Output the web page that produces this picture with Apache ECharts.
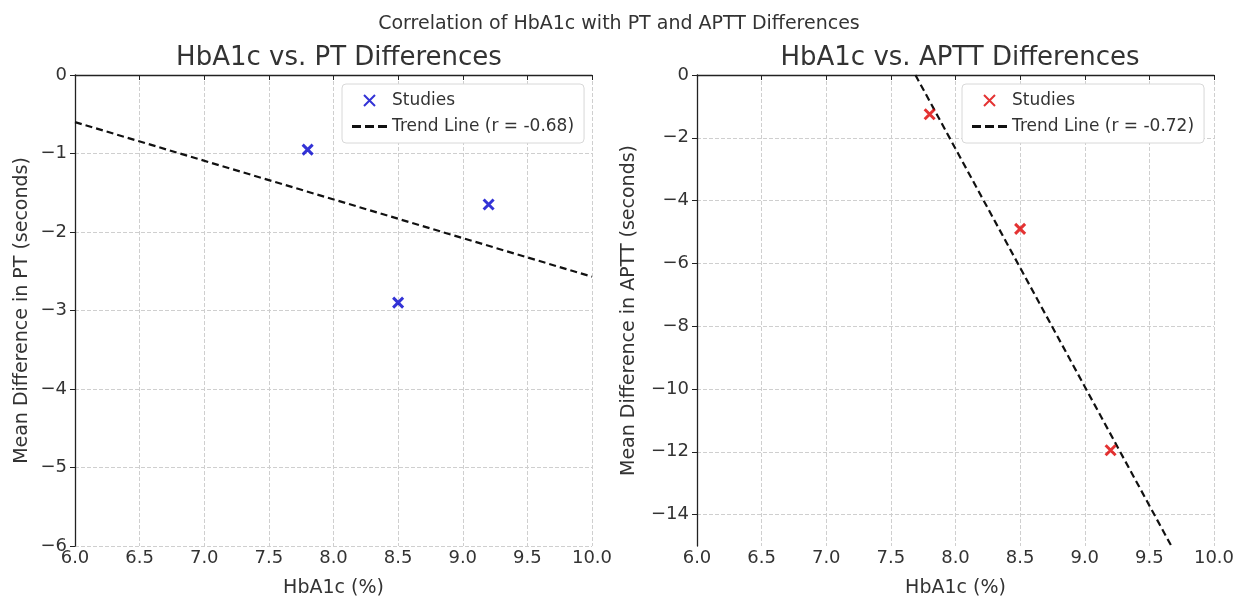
<!DOCTYPE html>
<html><head><meta charset="utf-8">
<script src="https://cdn.jsdelivr.net/npm/echarts@6/dist/echarts.min.js"></script>
<style>html,body{margin:0;padding:0;background:#fff}#c{width:1238px;height:597px}</style>
</head><body><div id="c"></div>
<script>
const hba1c = [7.8, 8.5, 9.2];
const ptDiff = [-0.95, -2.9, -1.65];
const apttDiff = [-1.25, -4.9, -11.95];
const ptTrend = [[6.0, -0.6], [10.0, -2.57]];
const apttTrend = [[7.69, 0], [9.67, -15]];
const ptYTicks = [0, -1, -2, -3, -4, -5, -6];
const apttYTicks = [0, -2, -4, -6, -8, -10, -12, -14];

const F = 'DejaVu Sans';
const xPath = 'path://M0,0L10,10M10,0L0,10';
const dashPath = 'path://M0,0h9v3h-9zM13,0h9v3h-9zM26,0h9v3h-9z';
function xAxis(idx){
  return {type:'value', gridIndex:idx, min:6, max:10, interval:0.5,
    name:'HbA1c (%)', nameLocation:'middle', nameGap:33,
    nameTextStyle:{fontFamily:F, fontSize:19, color:'#333'},
    axisLine:{lineStyle:{color:'#222', width:1.3}},
    axisTick:{show:true, length:5, lineStyle:{color:'#222'}},
    axisLabel:{fontFamily:F, fontSize:18, color:'#333', margin:3, formatter:v=>v.toFixed(1)},
    splitLine:{show:true, lineStyle:{color:'#cfcfcf', type:'dashed', width:1}}};
}
function yAxis(idx, min, ticks, name){
  return {type:'value', gridIndex:idx, min:min, max:0,
    name:name, nameLocation:'middle', nameGap:idx===0?43:58,
    nameTextStyle:{fontFamily:F, fontSize:19, color:'#333'},
    axisLine:{show:true, lineStyle:{color:'#222', width:1.3}},
    axisTick:{show:true, length:5, lineStyle:{color:'#222'}, customValues:ticks},
    axisLabel:{fontFamily:F, fontSize:18, color:'#333', margin:8, customValues:ticks,
      formatter:v=>v<0?'\u2212'+Math.abs(v):String(v)},
    splitLine:{show:true, lineStyle:{color:'#cfcfcf', type:'dashed', width:1}}};
}
function legend(idx, left, names){
  return {orient:'vertical', left:left, top:84, data:[{name:names[0], icon:xPath, itemStyle:{color:'rgba(0,0,0,0)'}}, {name:names[1], icon:dashPath, itemStyle:{color:'#111'}}],
    itemWidth:35, itemHeight:11, itemGap:9, padding:[8,10,8,10],
    borderColor:'#d8d8d8', borderWidth:1, borderRadius:4, backgroundColor:'#fff',
    textStyle:{fontFamily:F, fontSize:17, color:'#333'}};
}
const chart = echarts.init(document.getElementById('c'), null, {renderer:'canvas'});
chart.setOption({
  animation:false,
  title:[
    {text:'Correlation of HbA1c with PT and APTT Differences', left:'center', top:10, textStyle:{fontFamily:F, fontSize:19, fontWeight:'normal', color:'#333'}},
    {text:'HbA1c vs. PT Differences', left:334, textAlign:'center', top:40, textStyle:{fontFamily:F, fontSize:26, fontWeight:'normal', color:'#333'}},
    {text:'HbA1c vs. APTT Differences', left:955, textAlign:'center', top:40, textStyle:{fontFamily:F, fontSize:26, fontWeight:'normal', color:'#333'}}
  ],
  grid:[
    {left:75, right:646, top:75, bottom:51, containLabel:false, outerBoundsMode:'none'},
    {left:697, right:24, top:75, bottom:51, containLabel:false, outerBoundsMode:'none'}
  ],
  legend:[legend(0, 342, ['Studies', 'Trend Line (r = -0.68)']), legend(1, 962, ['Studies ', 'Trend Line (r = -0.72)'])],
  xAxis:[xAxis(0), xAxis(1)],
  yAxis:[yAxis(0, -6, ptYTicks, 'Mean Difference in PT (seconds)'), yAxis(1, -15, apttYTicks, 'Mean Difference in APTT (seconds)')],
  series:[
    {name:'Studies', type:'scatter', xAxisIndex:0, yAxisIndex:0, symbol:xPath, symbolSize:10,
      itemStyle:{color:'rgba(0,0,0,0)', borderColor:'#0000cc', borderWidth:3},
      data:hba1c.map((x,i)=>[x, ptDiff[i]]), z:3},
    {name:'Trend Line (r = -0.68)', type:'line', xAxisIndex:0, yAxisIndex:0, symbol:'none',
      lineStyle:{color:'#111', width:2.2, type:[7,4]}, itemStyle:{color:'#111'}, data:ptTrend},
    {name:'Studies ', type:'scatter', xAxisIndex:1, yAxisIndex:1, symbol:xPath, symbolSize:10,
      itemStyle:{color:'rgba(0,0,0,0)', borderColor:'#dd0000', borderWidth:3},
      data:hba1c.map((x,i)=>[x, apttDiff[i]]), z:3},
    {name:'Trend Line (r = -0.72)', type:'line', xAxisIndex:1, yAxisIndex:1, symbol:'none', clip:true,
      lineStyle:{color:'#111', width:2.2, type:[7,4]}, itemStyle:{color:'#111'}, data:apttTrend}
  ]
});
</script></body></html>
